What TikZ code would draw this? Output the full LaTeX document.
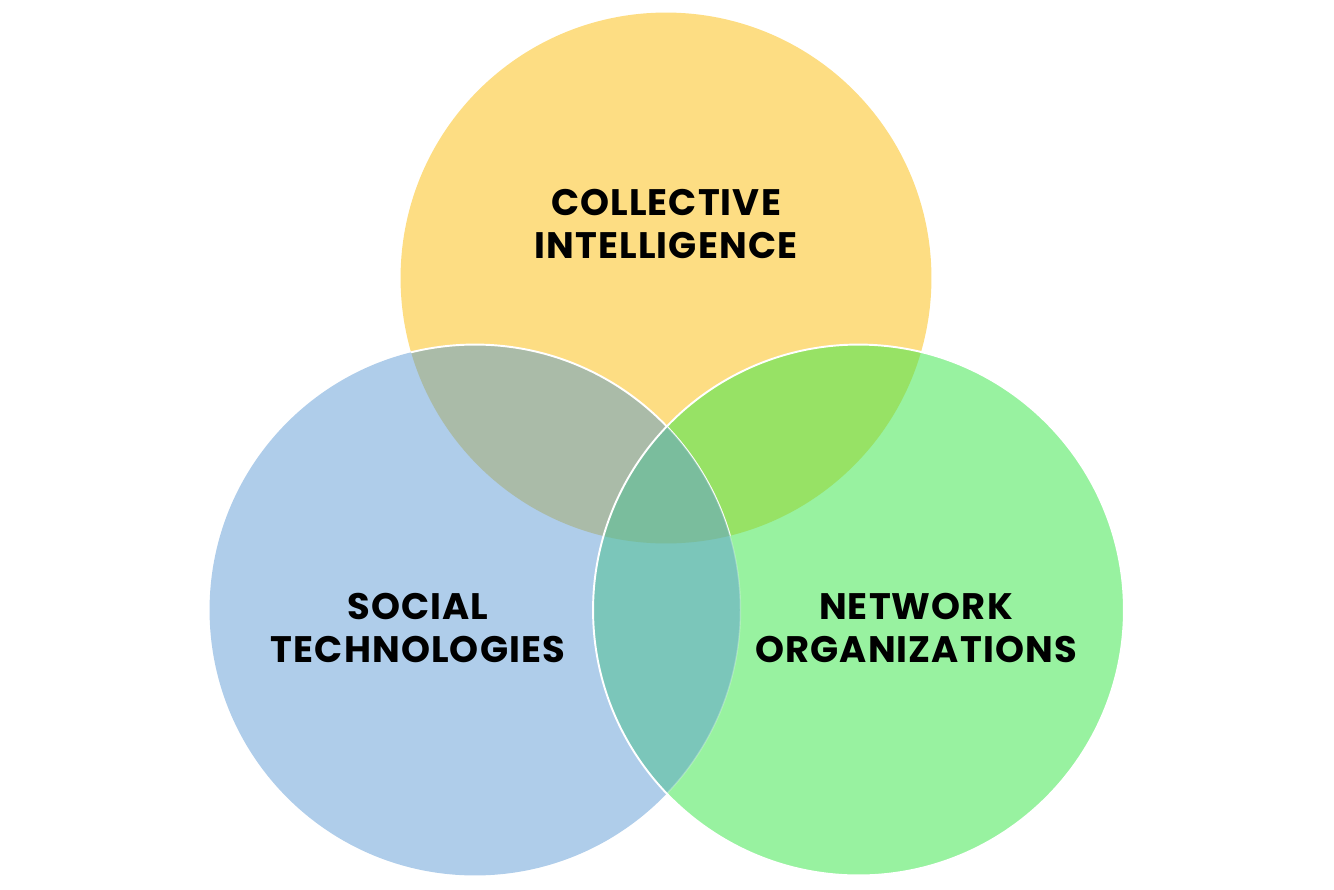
\documentclass[tikz,border=0pt]{standalone}
\usepackage{fontspec}
\setmainfont{Poppins}[LetterSpace=3]
\definecolor{cY}{RGB}{253,221,131}
\definecolor{cB}{RGB}{175,205,234}
\definecolor{cG}{RGB}{152,242,160}
\definecolor{cYB}{RGB}{170,187,168}
\definecolor{cYG}{RGB}{151,226,101}
\definecolor{cBG}{RGB}{123,198,186}
\definecolor{cYBG}{RGB}{122,189,157}
\tikzset{
  lab/.style={font=\fontsize{21}{24.5}\selectfont\bfseries, align=center, text=black, inner sep=0pt},
  rim/.style={draw=white, line width=1.1pt}
}
\begin{document}
\begin{tikzpicture}[x=0.02cm,y=-0.02cm]
\useasboundingbox (0,0) rectangle (1334,889);
\coordinate (Yc) at (666,278);
\coordinate (Bc) at (475,610);
\coordinate (Gc) at (858.5,610);
\def\R{5.31cm}
\fill[cY] (Yc) circle[radius=\R];
\fill[cB] (Bc) circle[radius=\R];
\fill[cG] (Gc) circle[radius=\R];
\begin{scope}\clip (Yc) circle[radius=\R]; \fill[cYB] (Bc) circle[radius=\R];\end{scope}
\begin{scope}\clip (Yc) circle[radius=\R]; \fill[cYG] (Gc) circle[radius=\R];\end{scope}
\begin{scope}\clip (Bc) circle[radius=\R]; \fill[cBG] (Gc) circle[radius=\R];\end{scope}
% blue rim over yellow
\begin{scope}\clip (Yc) circle[radius=\R]; \draw[rim] (Bc) circle[radius=\R];\end{scope}
\begin{scope}\clip (Yc) circle[radius=\R]; \clip (Bc) circle[radius=\R]; \fill[cYBG] (Gc) circle[radius=\R];\end{scope}
% faint blue rim inside green
\begin{scope}\clip (Gc) circle[radius=\R]; \draw[draw=white, opacity=0.25, line width=0.8pt] (Bc) circle[radius=\R];\end{scope}
% green rim
\draw[rim] (Gc) circle[radius=\R];
\node[lab] (ci) at (666,224) {COLLECTIVE\\INTELLIGENCE};
\node[lab] (st) at (418,628) {SOCIAL\\TECHNOLOGIES};
\node[lab] (no) at (916,628) {NETWORK\\ORGANIZATIONS};
\end{tikzpicture}
\end{document}
